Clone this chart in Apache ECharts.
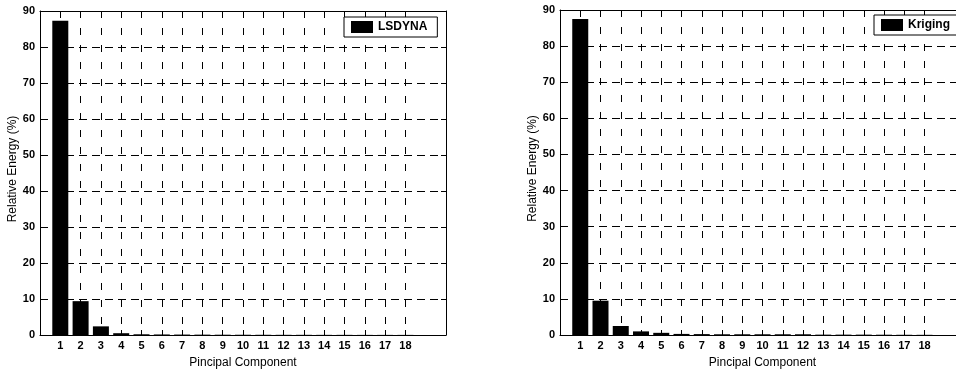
<!DOCTYPE html>
<html>
<head>
<meta charset="utf-8">
<script src="https://cdn.jsdelivr.net/npm/echarts@6/dist/echarts.min.js"></script>
<style>
  html, body { margin: 0; padding: 0; background: #fff; }
  #chart { width: 956px; height: 370px; }
</style>
</head>
<body>
<div id="chart"></div>
<script>
// Principal component positions on the x axis (0 and 19-20 are empty padding slots)
const components = ['0','1','2','3','4','5','6','7','8','9','10','11','12','13','14','15','16','17','18','19','20'];
const shownComponents = ['1','2','3','4','5','6','7','8','9','10','11','12','13','14','15','16','17','18'];

// Relative energy (%) per principal component
const lsdynaEnergy  = [87.3, 9.4, 2.4, 0.5, 0.2, 0.15, 0.12, 0.1, 0.08, 0.07, 0.06, 0.05, 0.05, 0.04, 0.04, 0.03, 0.03, 0.03];
const krigingEnergy = [87.5, 9.5, 2.5, 1.0, 0.6, 0.3, 0.25, 0.2, 0.2, 0.2, 0.2, 0.2, 0.1, 0.1, 0.1, 0.08, 0.06, 0.05];

const yTicks = [0, 10, 20, 30, 40, 50, 60, 70, 80, 90];

const seriesNames = ['LSDYNA', 'Kriging'];

function padded(values) {
  const out = components.map(() => null);
  shownComponents.forEach((c, i) => { out[components.indexOf(c)] = values[i]; });
  return out;
}

const isShown = (idx) => shownComponents.indexOf(components[idx]) >= 0;

const font = 'Liberation Sans, Arial, Helvetica, sans-serif';

function bottomAxis(gridIndex) {
  return {
    type: 'category', gridIndex, data: components, boundaryGap: false, position: 'bottom',
    axisLine: { show: true, lineStyle: { color: '#000', width: 1 } },
    axisTick: { show: true, inside: true, length: 5, interval: (i) => isShown(i), lineStyle: { color: '#000' } },
    axisLabel: { interval: (i) => isShown(i), color: '#000', fontSize: 11, fontWeight: 'bold', fontFamily: font, margin: 5 },
    splitLine: { show: true, interval: (i) => isShown(i), lineStyle: { color: '#000', width: 1, type: [7, 10] } },
    name: 'Pincipal Component', nameLocation: 'middle', nameGap: 22, nameMoveOverlap: false,
    nameTextStyle: { color: '#000', fontSize: 12, fontFamily: font }
  };
}
function topAxis(gridIndex) {
  return {
    type: 'category', gridIndex, data: components, boundaryGap: false, position: 'top',
    axisLine: { show: true, onZero: false, lineStyle: { color: '#000', width: 1 } },
    axisTick: { show: true, inside: true, length: 5, interval: (i) => isShown(i), lineStyle: { color: '#000' } },
    axisLabel: { show: false }, splitLine: { show: false }
  };
}
function leftAxis(gridIndex) {
  return {
    type: 'value', gridIndex, min: yTicks[0], max: yTicks[yTicks.length - 1], interval: 10, position: 'left',
    axisLine: { show: true, lineStyle: { color: '#000', width: 1 } },
    axisTick: { show: true, inside: true, length: 5, lineStyle: { color: '#000' } },
    axisLabel: { color: '#000', fontSize: 11, fontWeight: 'bold', fontFamily: font, margin: 5 },
    splitLine: { show: true, lineStyle: { color: '#000', width: 1, type: [8, 5] } },
    name: 'Relative Energy (%)', nameLocation: 'middle', nameGap: 21, nameRotate: 90, nameMoveOverlap: false,
    nameTextStyle: { color: '#000', fontSize: 12, fontFamily: font, padding: [0, 0, 0, 8] }
  };
}
function rightAxis(gridIndex) {
  return {
    type: 'value', gridIndex, min: 0, max: 90, interval: 10, position: 'right',
    axisLine: { show: true, lineStyle: { color: '#000', width: 1 } },
    axisTick: { show: true, inside: true, length: 5, lineStyle: { color: '#000' } },
    axisLabel: { show: false }, splitLine: { show: false }
  };
}
function legendBox(left, top, name) {
  return {
    data: [name], left, top, orient: 'horizontal',
    backgroundColor: '#fff', borderColor: '#000', borderWidth: 1, borderRadius: 0,
    padding: [4, 10, 4, 7], itemWidth: 22, itemHeight: 12, icon: 'rect',
    textStyle: { color: '#000', fontSize: 12, fontWeight: 'bold', fontFamily: font },
    selectedMode: false
  };
}

const chart = echarts.init(document.getElementById('chart'), null, { renderer: 'canvas' });
chart.setOption({
  backgroundColor: '#fff',
  animation: false,
  grid: [
    { left: 40, top: 11, width: 406, height: 324, show: false, containLabel: false, outerBoundsMode: 'none' },
    { left: 560, top: 10, width: 405, height: 325, show: false, containLabel: false, outerBoundsMode: 'none' }
  ],
  legend: [legendBox(344, 17, seriesNames[0]), legendBox(874, 15, seriesNames[1])],
  xAxis: [bottomAxis(0), topAxis(0), bottomAxis(1), topAxis(1)],
  yAxis: [leftAxis(0), rightAxis(0), leftAxis(1), rightAxis(1)],
  series: [
    { name: seriesNames[0], type: 'bar', xAxisIndex: 0, yAxisIndex: 0, data: padded(lsdynaEnergy),
      barWidth: 16, itemStyle: { color: '#000' } },
    { name: seriesNames[1], type: 'bar', xAxisIndex: 2, yAxisIndex: 2, data: padded(krigingEnergy),
      barWidth: 16, itemStyle: { color: '#000' } }
  ]
});
</script>
</body>
</html>
